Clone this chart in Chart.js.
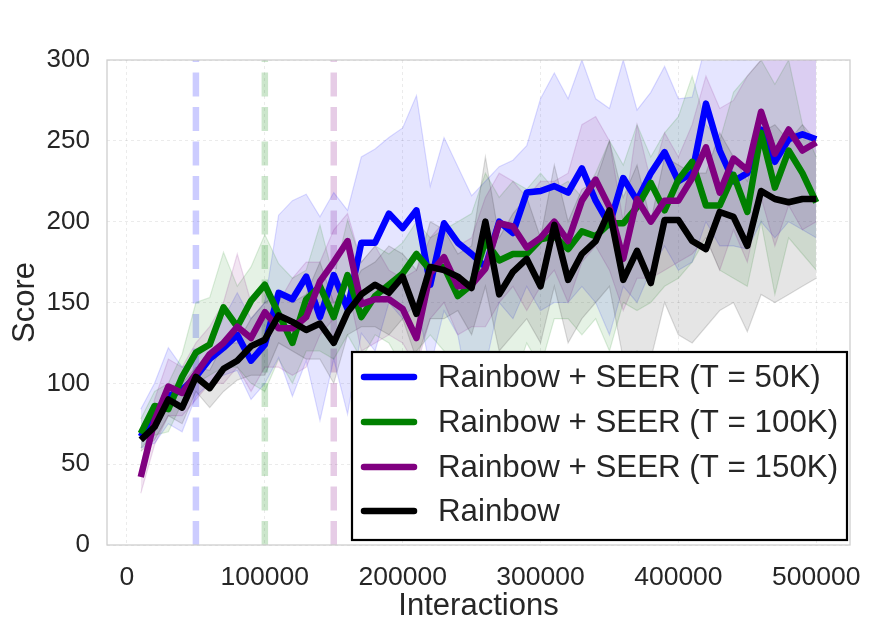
<!DOCTYPE html>
<html>
<head>
<meta charset="utf-8">
<script src="https://cdn.jsdelivr.net/npm/chart.js@4.4.1/dist/chart.umd.min.js"></script>
<style>
  html, body { margin: 0; padding: 0; background: #fff; }
  #wrap { width: 869px; height: 637px; }
</style>
</head>
<body>
<div id="wrap"><canvas id="chart" width="869" height="637"></canvas></div>
<script>
// x values (interactions)
const steps = [10000, 20000, 30000, 40000, 50000, 60000, 70000, 80000, 90000, 100000,
  110000, 120000, 130000, 140000, 150000, 160000, 170000, 180000, 190000, 200000,
  210000, 220000, 230000, 240000, 250000, 260000, 270000, 280000, 290000, 300000,
  310000, 320000, 330000, 340000, 350000, 360000, 370000, 380000, 390000, 400000,
  410000, 420000, 430000, 440000, 450000, 460000, 470000, 480000, 490000, 500000];

const xTicks = [0, 100000, 200000, 300000, 400000, 500000];
const yTicks = [0, 50, 100, 150, 200, 250, 300];

// T switch points for the dashed lines
const switchPoints = [50000, 100000, 150000];

// mean scores
const seer50 = [67, 82, 92, 96, 104, 115, 122, 130, 114, 124, 156, 152, 166, 141, 167, 146, 187, 187, 205, 196,
  207, 161, 199, 187, 180, 172, 200, 193, 218, 219, 222, 218, 233, 213, 198, 227, 213, 230, 243, 225,
  230, 273, 244, 225, 230, 257, 237, 251, 254, 251];
const seer100 = [69, 86, 84, 104, 119, 124, 147, 135, 151, 161, 143, 125, 152, 160, 141, 167, 141, 154, 161, 168,
  180, 170, 172, 154, 161, 188, 176, 180, 180, 189, 191, 183, 194, 191, 199, 199, 209, 224, 207, 226,
  237, 210, 210, 229, 206, 255, 221, 244, 230, 212];
const seer150 = [42, 77, 98, 94, 106, 118, 125, 135, 128, 144, 134, 134, 141, 163, 175, 188, 149, 152, 152, 146,
  128, 168, 178, 160, 161, 171, 199, 197, 184, 190, 200, 188, 213, 226, 209, 177, 214, 200, 213, 213,
  227, 246, 218, 239, 232, 268, 242, 257, 244, 249];
const rainbow = [65, 73, 90, 85, 104, 97, 109, 114, 123, 127, 142, 138, 133, 137, 125, 144, 155, 161, 156, 166,
  143, 172, 170, 166, 159, 200, 155, 169, 177, 160, 198, 164, 180, 188, 207, 164, 182, 162, 201, 201,
  188, 183, 206, 203, 185, 219, 214, 212, 214, 214];

// shaded band limits
const seer50Hi = [84, 100, 122, 110, 115, 125, 140, 156, 140, 150, 204, 213, 217, 203, 218, 207, 240, 245, 252, 258,
  278, 222, 252, 234, 216, 225, 234, 238, 247, 276, 292, 276, 300, 276, 270, 300, 269, 280, 296, 276,
  277, 310, 305, 300, 300, 310, 305, 310, 305, 300];
const seer50Lo = [60, 63, 75, 70, 92, 100, 105, 108, 90, 100, 116, 92, 114, 77, 115, 81, 131, 120, 150, 140,
  150, 110, 145, 130, 85, 110, 150, 140, 160, 145, 150, 150, 160, 150, 130, 160, 150, 170, 185, 170,
  175, 200, 185, 185, 183, 200, 190, 200, 195, 190];
const seer100Hi = [78, 95, 100, 118, 150, 153, 181, 160, 172, 192, 174, 165, 170, 198, 165, 201, 175, 185, 180, 187,
  200, 190, 195, 200, 205, 230, 215, 225, 220, 230, 220, 225, 215, 230, 250, 235, 260, 240, 255, 265,
  290, 260, 250, 280, 290, 300, 285, 300, 260, 240];
const seer100Lo = [60, 68, 70, 88, 100, 105, 110, 110, 100, 95, 115, 100, 120, 120, 115, 130, 115, 130, 125, 110,
  120, 130, 120, 110, 115, 95, 110, 100, 125, 110, 140, 140, 130, 140, 120, 150, 145, 150, 160, 165,
  175, 190, 170, 165, 160, 200, 155, 190, 180, 170];
const seer150Hi = [48, 90, 115, 110, 125, 135, 150, 180, 150, 160, 150, 165, 175, 175, 195, 205, 175, 185, 170, 165,
  170, 190, 200, 185, 190, 215, 230, 225, 215, 225, 225, 230, 260, 265, 250, 200, 260, 225, 255, 240,
  260, 290, 270, 275, 290, 300, 300, 300, 300, 300];
const seer150Lo = [32, 62, 80, 80, 90, 100, 100, 110, 95, 110, 110, 105, 110, 130, 140, 160, 120, 125, 130, 125,
  110, 140, 150, 130, 135, 135, 150, 160, 145, 160, 170, 150, 175, 185, 170, 145, 165, 165, 170, 175,
  180, 190, 170, 195, 175, 215, 185, 210, 195, 200];
const rainbowHi = [70, 80, 98, 100, 110, 108, 125, 125, 140, 150, 155, 150, 155, 175, 150, 155, 170, 175, 185, 180,
  170, 200, 195, 180, 185, 240, 190, 205, 215, 190, 235, 200, 220, 225, 250, 215, 235, 200, 240, 235,
  230, 230, 255, 240, 225, 255, 260, 250, 260, 250];
const rainbowLo = [58, 65, 80, 75, 95, 85, 95, 102, 105, 105, 125, 120, 115, 115, 100, 130, 135, 135, 130, 140,
  115, 140, 140, 145, 130, 160, 120, 130, 140, 125, 160, 125, 140, 150, 160, 115, 120, 115, 150, 130,
  125, 135, 145, 150, 132, 155, 150, 155, 160, 165];

const series = [
  { label: 'Rainbow + SEER (T = 50K)', rgb: '0,0,255', mean: seer50, hi: seer50Hi, lo: seer50Lo, sw: switchPoints[0] },
  { label: 'Rainbow + SEER (T = 100K)', rgb: '0,128,0', mean: seer100, hi: seer100Hi, lo: seer100Lo, sw: switchPoints[1] },
  { label: 'Rainbow + SEER (T = 150K)', rgb: '128,0,128', mean: seer150, hi: seer150Hi, lo: seer150Lo, sw: switchPoints[2] },
  { label: 'Rainbow', rgb: '0,0,0', mean: rainbow, hi: rainbowHi, lo: rainbowLo, sw: null }
];

const pts = ys => ys.map((y, i) => ({ x: steps[i], y: y }));

const datasets = [];
// mean lines (black ends up on top)
series.forEach((s, i) => {
  datasets.push({
    label: s.label, data: pts(s.mean), borderColor: 'rgb(' + s.rgb + ')',
    borderWidth: 6.5, fill: false, order: 10 - i, borderJoinStyle: 'round'
  });
});
// bands
series.forEach((s, i) => {
  datasets.push({
    data: pts(s.hi), borderColor: 'rgba(' + s.rgb + ',0.14)', borderWidth: 1.2,
    backgroundColor: 'rgba(' + s.rgb + ',0.1)', fill: '+1', order: 20 - i
  });
  datasets.push({
    data: pts(s.lo), borderColor: 'rgba(' + s.rgb + ',0.14)', borderWidth: 1.2,
    fill: false, order: 20 - i
  });
});
// dashed switch lines
series.forEach(s => {
  if (s.sw === null) return;
  datasets.push({
    data: [{ x: s.sw, y: 0 }, { x: s.sw, y: 300 }], borderColor: 'rgba(' + s.rgb + ',0.2)',
    borderWidth: 6.5, borderDash: [24, 10.5], borderCapStyle: 'butt', fill: false, order: 30
  });
});

const textColor = '#262626';
const fam = '"Liberation Sans", Arial, sans-serif';

const framePlugin = {
  id: 'frameAndLegend',
  afterDatasetsDraw(chart) {
    const { ctx, chartArea: a } = chart;
    ctx.save();
    ctx.strokeStyle = '#cccccc';
    ctx.lineWidth = 1.25;
    ctx.strokeRect(a.left, a.top, a.right - a.left, a.bottom - a.top);

    // legend box
    ctx.fillStyle = '#ffffff';
    ctx.fillRect(352, 352, 495, 188);
    ctx.strokeStyle = '#000000';
    ctx.lineWidth = 2.2;
    ctx.strokeRect(352, 352, 495, 188);
    const rows = [377, 422, 467, 511];
    ctx.font = '31.3px ' + fam;
    ctx.textBaseline = 'middle';
    ctx.lineCap = 'round';
    series.forEach((s, i) => {
      ctx.strokeStyle = 'rgb(' + s.rgb + ')';
      ctx.lineWidth = 6.5;
      ctx.beginPath();
      ctx.moveTo(364, rows[i]);
      ctx.lineTo(414, rows[i]);
      ctx.stroke();
      ctx.fillStyle = textColor;
      ctx.fillText(s.label, 438, rows[i] + 1);
    });
    ctx.restore();
  }
};

new Chart(document.getElementById('chart'), {
  type: 'line',
  data: { datasets: datasets },
  options: {
    responsive: false,
    animation: false,
    devicePixelRatio: 1,
    layout: { padding: { top: 60, right: 19, left: 0, bottom: 0 } },
    elements: { point: { radius: 0 }, line: { tension: 0 } },
    plugins: { legend: { display: false }, tooltip: { enabled: false } },
    scales: {
      x: {
        type: 'linear', min: -14500, max: 524500,
        afterBuildTicks: s => { s.ticks = xTicks.map(v => ({ value: v })); },
        afterFit: s => { s.height = 92; s.paddingLeft = 0; s.paddingRight = 0; },
        ticks: { callback: v => String(v), color: textColor, font: { family: fam, size: 26.5 }, padding: 17, maxRotation: 0, autoSkip: false },
        grid: { color: 'rgba(0,0,0,0.1)', lineWidth: 0.8, drawTicks: false },
        border: { display: false, dash: [3, 3] },
        title: { display: true, text: 'Interactions', color: textColor, font: { family: fam, size: 31 }, padding: { top: 0, bottom: 12 } }
      },
      y: {
        min: 0, max: 300,
        afterBuildTicks: s => { s.ticks = yTicks.map(v => ({ value: v })); },
        afterFit: s => { s.width = 107; },
        ticks: { color: textColor, font: { family: fam, size: 26 }, padding: 17 },
        grid: { color: 'rgba(0,0,0,0.1)', lineWidth: 0.8, drawTicks: false },
        border: { display: false, dash: [3, 3] },
        title: { display: true, text: 'Score', color: textColor, font: { family: fam, size: 31 }, padding: { top: 7, bottom: 0 } }
      }
    }
  },
  plugins: [framePlugin]
});
</script>
</body>
</html>
